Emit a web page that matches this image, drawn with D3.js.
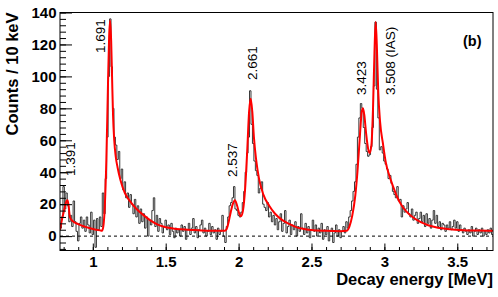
<!DOCTYPE html>
<html><head><meta charset="utf-8">
<script src="https://cdn.jsdelivr.net/npm/d3@7/dist/d3.min.js"></script>
<style>
html,body{margin:0;padding:0;background:#fff;}
text{font-family:"Liberation Sans",Arial,Helvetica,sans-serif;}
</style></head>
<body>
<svg id="chart" width="498" height="297"></svg>
<script>
// ---- data ----
const binStart = 0.775;   // MeV, lower edge of first bin
const binWidth = 0.01;    // 10 keV
const counts = [
  5,12,31,17,27,19,9,13,6,22,
  9,3,-3,8,12,5,10,3,12,7,
  2,15,1,10,-7,11,4,12,6,27,
  14,36,62,100,136,106,80,62,57,48,
  53,36,42,29,34,24,27,18,26,20,
  14,23,12,19,8,17,9,14,5,12,
  0,10,7,16,24,6,13,3,11,8,
  2,6,10,4,7,1,8,3,-1,5,
  2,4,0,7,3,6,-2,4,8,1,
  5,11,2,6,-1,4,7,10,2,5,
  0,3,8,1,6,2,4,-2,5,1,
  3,13,0,-4,6,12,19,21,24,31,
  17,16,13,12,15,21,28,40,52,62,
  91,70,58,47,41,38,27,30,34,20,
  18,16,21,12,15,9,13,7,11,4,
  9,14,3,8,16,2,6,10,1,7,
  4,9,0,6,3,14,5,1,8,2,
  6,-1,4,10,3,7,0,5,2,8,
  -2,4,1,6,-3,3,5,-4,2,7,
  0,4,-1,3,6,2,9,5,12,16,
  22,28,34,45,62,74,83,80,68,58,
  53,50,51,56,68,94,134,92,74,54,
  56,52,47,45,42,36,38,33,28,26,
  24,31,22,23,12,19,15,17,21,14,
  12,17,10,13,15,8,11,15,9,13,
  6,14,8,11,5,10,16,8,13,6,
  9,4,8,7,3,7,5,9,4,6,
  10,5,9,3,7,4,2,5,3,1,
  4,2,6,0,3,5,1,4,2,5,
  0,3,1,4,2,5,1
];
const fitEnergy = [0.775,0.79,0.80,0.81,0.82,0.827,0.834,0.843,0.86,0.90,0.95,1.00,1.05,1.063,1.072,1.082,1.093,1.103,1.112,1.119,1.126,1.132,1.139,1.147,1.157,1.17,1.19,1.22,1.25,1.30,1.35,1.40,1.45,1.50,1.55,1.60,1.70,1.80,1.905,1.918,1.932,1.946,1.96,1.975,1.99,2.005,2.016,2.03,2.045,2.06,2.072,2.083,2.094,2.105,2.12,2.14,2.17,2.21,2.25,2.30,2.35,2.40,2.45,2.50,2.60,2.70,2.74,2.76,2.78,2.80,2.815,2.83,2.845,2.853,2.862,2.875,2.89,2.90,2.912,2.922,2.932,2.94,2.948,2.958,2.97,2.99,3.01,3.03,3.06,3.09,3.12,3.15,3.20,3.25,3.30,3.36,3.45,3.54,3.65,3.745];
const fitCounts = [4,11,15,19,22,22.5,19,12,9.5,7.5,5.8,4.5,3.6,3.4,6,18,48,90,125,135,122,100,75,60,50,43,35,27,22.5,17,13,9.5,7,5.6,4.8,4.3,3.8,3.4,3.3,4.5,9,15,20,22.5,19,14,12.5,16,30,55,78,86,78,62,48,36,26,19,14,10,7.5,5.5,4.5,3.8,3.3,3.1,3.3,6,13,25,40,60,78,80,76,64,54,52,58,80,115,134,120,90,72,58,46,39,31,24,19,15.5,11.5,8.7,6.8,5.4,4.3,3.75,3.45,3.3];
const xDomain = [0.775, 3.745];
const yDomain = [-9, 140];
const xMajorTicks = [1, 1.5, 2, 2.5, 3, 3.5];
const xMinorTicks = d3.range(8, 38).map(d => d / 10);
const yMajorTicks = [0, 20, 40, 60, 80, 100, 120, 140];
const yMinorTicks = d3.range(-8, 141, 4);
const peakLabels = ["1.391", "1.691", "2.537", "2.661", "3.423", "3.508 (IAS)"];
const peakLabelEnergy = [0.878, 1.084, 1.989, 2.123, 2.877, 3.076];
const peakLabelCount = [37.6, 114.6, 37.0, 97.7, 88.4, 88.4];
const xTitle = "Decay energy [MeV]";
const yTitle = "Counts / 10 keV";
const panelTag = "(b)";

// ---- layout ----
const L = 60, R = 493, T = 12.5, B = 250.5;
const svg = d3.select("#chart");
svg.append("rect").attr("width", 498).attr("height", 297).attr("fill", "#fff");
const x = d3.scaleLinear().domain(xDomain).range([L, R]);
const y = d3.scaleLinear().domain(yDomain).range([B, T]);

svg.append("defs").append("clipPath").attr("id", "clip")
  .append("rect").attr("x", L).attr("y", T).attr("width", R - L).attr("height", B - T);

const plot = svg.append("g").attr("clip-path", "url(#clip)");

// histogram step outline
const stepPts = counts.map((c, i) => [binStart + i * binWidth, c]);
stepPts.push([binStart + counts.length * binWidth, counts[counts.length - 1]]);
plot.append("path")
  .attr("d", d3.line().x(d => x(d[0])).y(d => y(d[1])).curve(d3.curveStepAfter)(stepPts))
  .attr("fill", "none").attr("stroke", "#222").attr("stroke-width", 0.9);

// zero line
plot.append("line").attr("x1", L).attr("x2", R).attr("y1", y(0)).attr("y2", y(0))
  .attr("stroke", "#000").attr("stroke-width", 1).attr("stroke-dasharray", "3,3");

// fit
const fitPts = fitEnergy.map((e, i) => [e, fitCounts[i]]);
plot.append("path")
  .attr("d", d3.line().x(d => x(d[0])).y(d => y(d[1])).curve(d3.curveMonotoneX)(fitPts))
  .attr("fill", "none").attr("stroke", "#ff0000").attr("stroke-width", 2);

// axes
const fmt = d => String(d);
const xAxisMaj = d3.axisBottom(x).tickValues(xMajorTicks).tickFormat(fmt).tickSize(-7).tickPadding(6);
const xAxisMin = d3.axisBottom(x).tickValues(xMinorTicks).tickFormat("").tickSize(-3.5);
const yAxisMaj = d3.axisLeft(y).tickValues(yMajorTicks).tickFormat(fmt).tickSize(-12).tickPadding(3.5);
const yAxisMin = d3.axisLeft(y).tickValues(yMinorTicks).tickFormat("").tickSize(-6);

function styleAxis(g) {
  g.select(".domain").remove();
  g.selectAll("line").attr("stroke", "#000").attr("stroke-width", 1);
  g.selectAll("text").attr("font-size", 15).attr("font-weight", "bold").attr("fill", "#000")
    .attr("font-family", '"Liberation Sans",Arial,Helvetica,sans-serif');
}
svg.append("g").attr("transform", `translate(0,${B})`).call(xAxisMin).call(styleAxis);
svg.append("g").attr("transform", `translate(0,${B})`).call(xAxisMaj).call(styleAxis);
svg.append("g").attr("transform", `translate(${L},0)`).call(yAxisMin).call(styleAxis);
svg.append("g").attr("transform", `translate(${L},0)`).call(yAxisMaj).call(styleAxis);

// frame
svg.append("rect").attr("x", L).attr("y", T).attr("width", R - L).attr("height", B - T)
  .attr("fill", "none").attr("stroke", "#000").attr("stroke-width", 1);

// titles
svg.append("text").attr("x", R).attr("y", 284.5).attr("text-anchor", "end")
  .attr("font-size", 16.5).attr("font-weight", "bold").text(xTitle);
svg.append("text").attr("transform", `translate(17.5,${T}) rotate(-90)`).attr("text-anchor", "end")
  .attr("font-size", 16.5).attr("font-weight", "bold").text(yTitle);

// peak labels
peakLabels.forEach((t, i) => {
  svg.append("text")
    .attr("transform", `translate(${x(peakLabelEnergy[i])},${y(peakLabelCount[i])}) rotate(-90)`)
    .attr("font-size", 13.5).attr("fill", "#000").text(t);
});

svg.append("text").attr("x", 463).attr("y", 45.5).attr("font-size", 14.5)
  .attr("font-weight", "bold").text(panelTag);
</script>
</body></html>
